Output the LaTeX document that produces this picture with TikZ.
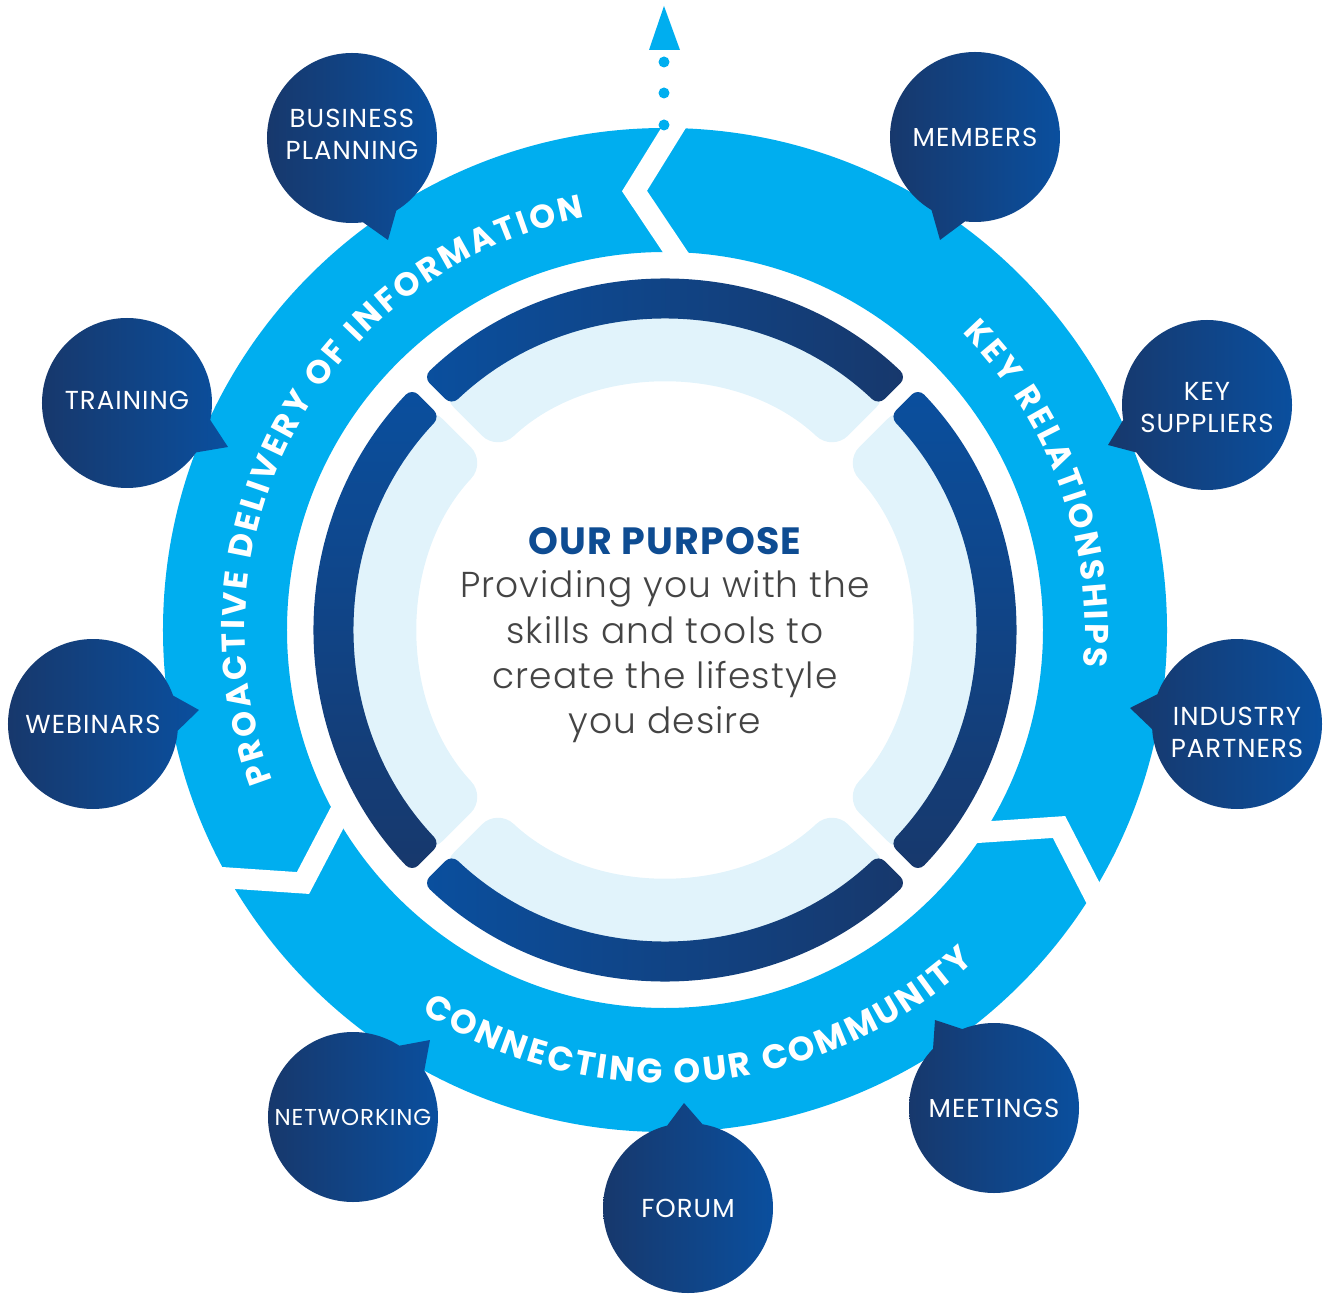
\documentclass[tikz,border=0pt]{standalone}
\usepackage{fontspec}
\setmainfont{Poppins}
\IfFontExistsTF{Poppins Light}{\newfontfamily\lightfont{Poppins Light}[LetterSpace=3]}{\newfontfamily\lightfont{Poppins}[LetterSpace=2]}
\newfontfamily\bubfont{Poppins}[LetterSpace=4]
\newfontfamily\titlefont{Poppins}[LetterSpace=3]
\usetikzlibrary{decorations.text,calc}
\definecolor{ringblue}{HTML}{00AEEF}
\definecolor{paleblue}{HTML}{E1F3FB}
\definecolor{navyA}{HTML}{0A4F9E}
\definecolor{navyB}{HTML}{17386C}
\definecolor{purp}{HTML}{0E4C92}
\definecolor{bodygray}{HTML}{444444}
\newcommand{\mysect}[5]{%
  \path[#1] ({#2-45+asin(#5/#3)}:#3)
    arc[start angle={#2-45+asin(#5/#3)}, end angle={#2+45-asin(#5/#3)}, radius=#3]
    -- ({#2+45-asin(#5/#4)}:#4)
    arc[start angle={#2+45-asin(#5/#4)}, end angle={#2-45+asin(#5/#4)}, radius=#4]
    -- cycle;}
\newcommand{\bubble}[8]{%
  \pgfmathsetmacro{\bang}{atan2(#5-#3,#4-#2)}
  \shade[bubshade] (#2,#3) circle[radius=85]
    ({#2+85*cos(\bang-12)},{#3+85*sin(\bang-12)}) -- (#4,#5)
    -- ({#2+85*cos(\bang+12)},{#3+85*sin(\bang+12)}) -- cycle;
  \node[bubtext, font=#7] (#1) at (#2,{#3+#8}) {#6};}
\begin{document}
\begin{tikzpicture}[x=1pt,y=1pt,
  bubshade/.style={left color=navyB, right color=navyA},
  bubtext/.style={text=white, align=center, inner sep=0pt},
  gapline/.style={draw=white, line width=21pt, line join=miter, miter limit=10},
  ringtext/.style={decorate, decoration={text along path, text align=fit to path, text color=white, text={#1}}},
  bodyline/.style={text=bodygray, anchor=base, inner sep=0pt, font=\lightfont\fontsize{36}{40}\selectfont}]
\useasboundingbox (-665,-665) rectangle (664,630);
% outer ring
\fill[ringblue, even odd rule] (0,0) circle[radius=502] (0,0) circle[radius=378];
\draw[gapline] (16.9,368.2) -- (-30.5,439) -- (16.3,514.6);
\draw[gapline] (301.5,-203.25) -- (394,-197) -- (433.6,-273.8);
\draw[gapline] (-319.5,-171.75) -- (-362,-253) -- (-450.8,-247);
% dotted arrow
\fill[ringblue] (-1,505) circle[radius=5.5];
\fill[ringblue] (-1,537) circle[radius=5.5];
\fill[ringblue] (-1,568) circle[radius=5.5];
\fill[ringblue] (-16,580) -- (15,580) -- (-1,624) -- cycle;
% inner pale pieces
\foreach \t in {0,90,180,270} {\mysect{fill=paleblue, rounded corners=22pt}{\t}{245}{328}{8}}
% dark arcs
\mysect{rounded corners=9pt, left color=navyA, right color=navyB}{90}{310}{350}{8}
\mysect{rounded corners=9pt, left color=navyA, right color=navyB}{270}{310}{350}{8}
\mysect{rounded corners=9pt, top color=navyA, bottom color=navyB}{180}{310}{350}{8}
\mysect{rounded corners=9pt, top color=navyA, bottom color=navyB}{0}{310}{350}{8}
% ring texts
\path[ringtext={|\bfseries\fontsize{33}{33}\selectfont|PROACTIVE DELIVERY OF INFORMATION}]
  (201:420) arc[start angle=201, end angle=101, radius=420];
\path[ringtext={|\bfseries\fontsize{33}{33}\selectfont|KEY RELATIONSHIPS}]
  (45:420) arc[start angle=45, end angle=-5, radius=420];
\path[ringtext={|\bfseries\fontsize{34}{34}\selectfont|CONNECTING OUR COMMUNITY}]
  (237.5:453) arc[start angle=237.5, end angle=313, radius=453];
% center text
\node[text=purp, anchor=base, inner sep=0pt, font=\titlefont\bfseries\fontsize{38}{40}\selectfont] (title) at (0,75) {OUR PURPOSE};
\node[bodyline] (l1) at (0,32) {Providing you with the};
\node[bodyline] (l2) at (0,-13) {skills and tools to};
\node[bodyline] (l3) at (0,-58) {create the lifestyle};
\node[bodyline] (l4) at (0,-103) {you desire};
% bubbles
\bubble{bp}{-313}{492}{-277}{390}{BUSINESS\\PLANNING}{\bubfont\fontsize{26}{32}\selectfont}{4}
\bubble{mem}{310}{493}{275}{390}{MEMBERS}{\bubfont\fontsize{26}{32}\selectfont}{0}
\bubble{ks}{542}{225}{443}{185}{KEY\\SUPPLIERS}{\bubfont\fontsize{26}{32}\selectfont}{-3}
\bubble{ip}{572}{-94}{465}{-78}{INDUSTRY\\PARTNERS}{\bubfont\fontsize{26}{32}\selectfont}{-8}
\bubble{mee}{329}{-478}{270}{-390}{MEETINGS}{\bubfont\fontsize{26}{32}\selectfont}{0}
\bubble{for}{23}{-578}{19}{-473}{FORUM}{\bubfont\fontsize{26}{32}\selectfont}{0}
\bubble{net}{-312}{-487}{-235}{-410}{NETWORKING}{\bubfont\fontsize{23}{28}\selectfont}{0}
\bubble{web}{-572}{-94}{-466}{-80}{WEBINARS}{\bubfont\fontsize{26}{32}\selectfont}{0}
\bubble{tra}{-538}{227}{-437}{183}{TRAINING}{\bubfont\fontsize{26}{32}\selectfont}{3}
\end{tikzpicture}
\end{document}
